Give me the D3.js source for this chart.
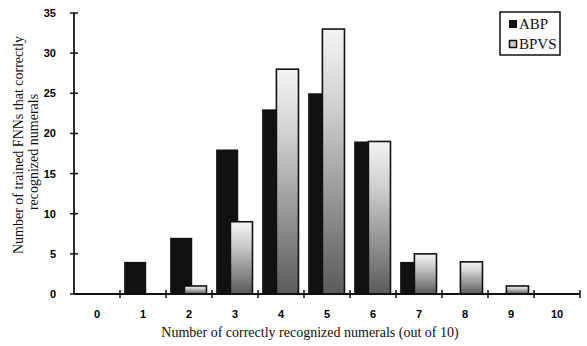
<!DOCTYPE html>
<html>

<head>
    <meta charset='utf-8'>
    <title>Recognized numerals</title>
    <script type='text/javascript' src='https://cdn.jsdelivr.net/npm/d3@7'></script>
    <style>
        body { margin: 0; background: #fff; }
    </style>
</head>

<body>
    <svg width='587' height='346'></svg>
    <script type='text/javascript'>
        // data
        const categories = ['0', '1', '2', '3', '4', '5', '6', '7', '8', '9', '10']
        const abp = [0, 4, 7, 18, 23, 25, 19, 4, 0, 0, 0]
        const bpvs = [0, 0, 1, 9, 28, 33, 19, 5, 4, 1, 0]
        const yTicks = [0, 5, 10, 15, 20, 25, 30, 35]

        const svg = d3.select('svg')
        const mLeft = 74, mRight = 580, mTop = 13, mBottom = 294

        const x = d3.scaleBand().domain(categories).range([mLeft, mRight])
        const y = d3.scaleLinear().domain([0, 35]).range([mBottom, mTop])
        const bw = x.bandwidth()

        // stippled-looking grey fill: light at the top, darker lower down
        const grad = svg.append('defs').append('linearGradient')
            .attr('id', 'bpvsFill').attr('x1', 0).attr('y1', 0).attr('x2', 0).attr('y2', 1)
        grad.append('stop').attr('offset', '0%').attr('stop-color', '#f4f4f4')
        grad.append('stop').attr('offset', '30%').attr('stop-color', '#cfcfcf')
        grad.append('stop').attr('offset', '100%').attr('stop-color', '#5a5a5a')

        const abpRows = categories.map((c, i) => ({ c: c, v: abp[i] })).filter(d => d.v > 0)
        const bpvsRows = categories.map((c, i) => ({ c: c, v: bpvs[i] })).filter(d => d.v > 0)

        // ABP bars (behind)
        svg.append('g').selectAll('rect').data(abpRows).enter().append('rect')
            .attr('x', d => x(d.c) + bw * 0.09)
            .attr('y', d => y(d.v))
            .attr('width', bw * 0.48)
            .attr('height', d => mBottom - y(d.v))
            .attr('fill', '#111')

        // BPVS bars (in front, overlapping)
        svg.append('g').selectAll('rect').data(bpvsRows).enter().append('rect')
            .attr('x', d => x(d.c) + bw * 0.40)
            .attr('y', d => y(d.v))
            .attr('width', bw * 0.48)
            .attr('height', d => mBottom - y(d.v))
            .attr('fill', 'url(#bpvsFill)')
            .attr('stroke', '#111')
            .attr('stroke-width', 1.6)

        // y axis with crossing ticks
        const tickFont = 'bold 11px "Liberation Sans", Arial, sans-serif'
        const yAxis = svg.append('g')
        yAxis.append('line').attr('x1', mLeft).attr('x2', mLeft).attr('y1', mTop).attr('y2', mBottom)
            .attr('stroke', '#111').attr('stroke-width', 1.8)
        yAxis.selectAll('.yt').data(yTicks).enter().append('line')
            .attr('x1', mLeft - 4).attr('x2', mLeft + 4)
            .attr('y1', d => y(d)).attr('y2', d => y(d))
            .attr('stroke', '#111').attr('stroke-width', 1.5)
        yAxis.selectAll('text').data(yTicks).enter().append('text')
            .attr('x', mLeft - 18).attr('y', d => y(d) + 4)
            .attr('text-anchor', 'end')
            .style('font', tickFont)
            .text(d => d)

        // x axis with crossing ticks at band boundaries
        const xAxis = svg.append('g')
        xAxis.append('line').attr('x1', mLeft).attr('x2', mRight).attr('y1', mBottom).attr('y2', mBottom)
            .attr('stroke', '#111').attr('stroke-width', 1.8)
        xAxis.selectAll('.xt').data(categories).enter().append('line')
            .attr('x1', d => x(d) + bw).attr('x2', d => x(d) + bw)
            .attr('y1', mBottom - 4).attr('y2', mBottom + 4)
            .attr('stroke', '#111').attr('stroke-width', 1.5)
        xAxis.selectAll('text').data(categories).enter().append('text')
            .attr('x', d => x(d) + bw / 2).attr('y', 318)
            .attr('text-anchor', 'middle')
            .style('font', tickFont)
            .text(d => d)

        // axis titles
        const serif = '14px "Liberation Serif", "Times New Roman", serif'
        svg.append('text').attr('x', 310).attr('y', 337).attr('text-anchor', 'middle')
            .style('font', serif).attr('fill', '#111')
            .text('Number of correctly recognized numerals (out of 10)')
        svg.append('text').attr('transform', 'translate(23,145) rotate(-90)').attr('text-anchor', 'middle')
            .style('font', serif).attr('fill', '#111')
            .text('Number of trained FNNs that correctly')
        svg.append('text').attr('transform', 'translate(38,152) rotate(-90)').attr('text-anchor', 'middle')
            .style('font', serif).attr('fill', '#111')
            .text('recognized numerals')

        // legend
        const legendFont = '15px "Liberation Serif", "Times New Roman", serif'
        const lg = svg.append('g').attr('transform', 'translate(500,12)')
        lg.append('rect').attr('width', 60).attr('height', 43)
            .attr('fill', '#fff').attr('stroke', '#111').attr('stroke-width', 1.5)
        lg.append('rect').attr('x', 9).attr('y', 8).attr('width', 8).attr('height', 8).attr('fill', '#111')
        lg.append('rect').attr('x', 9.5).attr('y', 28.5).attr('width', 7).attr('height', 7)
            .attr('fill', '#ccc').attr('stroke', '#111').attr('stroke-width', 1.5)
        lg.append('text').attr('x', 19).attr('y', 17).style('font', legendFont).attr('fill', '#111').text('ABP')
        lg.append('text').attr('x', 19).attr('y', 37).style('font', legendFont).attr('fill', '#111').text('BPVS')
    </script>
</body>

</html>
